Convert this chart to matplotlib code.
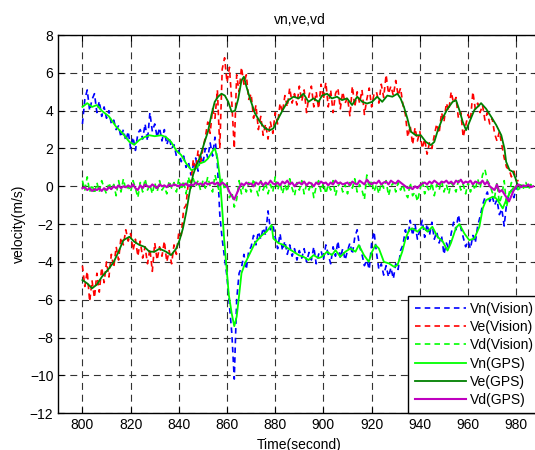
import matplotlib
matplotlib.use('Agg')
import matplotlib.pyplot as plt
import numpy as np

plt.rcParams['font.family'] = ['Liberation Sans', 'DejaVu Sans']
plt.rcParams['lines.scale_dashes'] = False

# Vision estimates, one value per second
t_vis = np.arange(800, 982)
vn_vision = [
    3.3, 4.6, 5.1, 4.0, 4.6, 4.9, 3.9, 4.5, 3.7, 4.2,
    3.6, 4.0, 3.3, 3.5, 3.0, 3.2, 2.6, 3.0, 2.4, 2.9,
    2.0, 2.6, 1.9, 2.8, 3.0, 2.5, 3.3, 2.4, 3.9, 2.9,
    3.3, 2.6, 3.1, 2.4, 3.0, 2.2, 2.6, 2.0, 2.2, 1.6,
    1.9, 1.3, 1.6, 1.0, 1.3, 0.6, 1.1, 1.5, 0.8, 1.6,
    1.2, 2.0, 1.5, 2.3, 1.6, 2.6, 1.2, -1.5, -2.8, -3.8,
    -4.8, -6.3, -7.8, -10.2, -6.0, -4.6, -4.3, -3.6, -4.4, -3.4,
    -3.2, -2.6, -3.1, -2.4, -2.8, -2.2, -2.6, -1.3, -2.3, -2.0,
    -2.7, -3.3, -2.5, -3.4, -2.9, -3.6, -3.1, -3.7, -3.3, -3.9,
    -3.4, -3.8, -3.3, -4.0, -3.5, -3.9, -3.2, -4.1, -3.6, -3.4,
    -3.9, -3.1, -3.6, -4.1, -3.2, -3.7, -2.9, -3.8, -3.3, -3.9,
    -3.4, -3.0, -3.6, -2.7, -2.3, -3.2, -3.6, -4.2, -3.9, -4.4,
    -3.0, -2.4, -3.5, -4.4, -4.1, -4.7, -4.2, -4.8, -4.3, -4.9,
    -4.1, -4.4, -3.4, -3.1, -2.3, -2.8, -1.8, -2.6, -2.0, -2.8,
    -2.3, -1.8, -2.7, -2.0, -2.6, -1.9, -2.8, -2.4, -3.0, -2.6,
    -3.6, -3.0, -3.3, -2.5, -1.9, -2.3, -1.5, -2.2, -2.7, -3.2,
    -2.9, -3.3, -2.6, -3.0, -2.1, -1.6, -1.0, -0.6, -0.3, -0.8,
    -0.5, -1.0, -0.7, -1.5, -1.2, -2.1, -0.9, -0.4, -0.2, -0.6,
    -0.1, 0.0,
]
ve_vision = [
    -4.2, -5.3, -4.5, -6.1, -5.0, -5.9, -4.6, -5.6, -4.3, -5.1,
    -4.0, -4.8, -3.6, -4.3, -3.2, -3.9, -2.7, -3.1, -2.3, -2.9,
    -2.5, -3.4, -2.8, -3.7, -2.9, -3.8, -3.2, -4.1, -3.3, -4.5,
    -3.0, -3.9, -3.2, -3.7, -2.9, -4.0, -3.4, -4.1, -3.1, -3.6,
    -2.4, -2.6, -1.2, -1.0, 0.3, 0.2, 1.4, 0.9, 1.9, 1.2,
    2.0, 2.6, 3.4, 2.8, 4.1, 3.6, 5.1, 2.0, 6.2, 6.8,
    5.5, 6.3, 4.4, 2.0, 5.9, 5.0, 6.3, 5.4, 5.9, 4.6,
    4.9, 3.6, 4.3, 3.0, 3.7, 2.7, 3.3, 2.5, 3.4, 2.8,
    3.9, 3.3, 4.4, 3.9, 4.8, 4.2, 5.2, 4.4, 4.9, 4.3,
    5.3, 4.5, 5.1, 3.9, 4.8, 5.3, 4.2, 5.0, 4.1, 5.4,
    4.6, 5.5, 4.2, 5.1, 3.9, 4.9, 5.2, 4.1, 5.0, 4.4,
    4.7, 3.7, 5.3, 4.2, 5.0, 4.4, 5.1, 3.8, 4.6, 5.2,
    4.2, 4.9, 5.0, 4.4, 5.4, 4.7, 5.9, 4.9, 5.3, 4.8,
    5.6, 4.8, 5.2, 4.3, 3.8, 2.6, 3.2, 2.2, 3.1, 2.4,
    2.9, 2.0, 2.5, 1.7, 2.3, 2.0, 2.7, 3.3, 2.8, 3.9,
    3.4, 4.4, 4.0, 5.0, 4.4, 4.7, 3.6, 3.9, 2.6, 3.2,
    3.8, 3.5, 5.0, 4.1, 4.4, 3.9, 4.3, 3.5, 3.9, 3.3,
    3.6, 2.8, 2.4, 2.9, 2.2, 1.5, 1.0, 0.9, 0.5, 0.8,
    0.3, 0.3,
]

t_vd = np.arange(800, 988)
vd_vision = [
    0.3, -0.2, 0.5, -0.3, 0.1, -0.4, 0.2, -0.3, 0.3, -0.1,
    -0.4, 0.2, -0.2, 0.1, -0.5, 0.3, -0.3, 0.4, -0.2, 0.0,
    -0.3, 0.3, -0.1, -0.6, 0.2, -0.3, 0.4, -0.2, 0.1, -0.4,
    0.2, -0.3, 0.3, -0.2, 0.0, -0.4, 0.3, -0.1, 0.2, -0.3,
    0.4, -0.2, 0.3, -0.4, 0.5, -0.1, 0.4, 0.0, 0.3, -0.2,
    0.3, -0.1, 0.5, 0.0, -0.3, 0.6, 0.1, -0.4, 0.4, -0.2,
    0.2, -0.6, -0.3, -1.1, -0.7, 0.3, -0.4, 0.1, -0.3, 0.2,
    -0.3, 0.4, -0.1, -0.5, 0.3, -0.2, 0.2, -0.4, 0.1, -0.3,
    0.5, -0.2, 0.2, -0.4, 0.1, -0.3, 0.4, -0.1, -0.5, 0.2,
    -0.2, 0.3, -0.4, 0.1, -0.2, 0.2, -0.6, 0.0, 0.3, -0.3,
    0.2, -0.4, 0.1, -0.2, 0.3, -0.5, 0.0, 0.2, -0.3, 0.1,
    -0.4, 0.2, -0.1, 0.4, -0.3, 0.1, -0.2, -0.7, 0.6, -0.1,
    0.3, -0.3, 0.1, -0.4, 0.2, -0.1, 0.3, -0.5, 0.0, 0.2,
    -0.3, 0.2, -0.2, 0.1, -0.4, -0.6, 0.2, -0.5, -0.3, -0.8,
    -0.2, 0.3, -0.4, 0.0, -0.3, 0.2, -0.5, 0.1, -0.2, 0.3,
    -0.3, 0.1, -0.4, 0.2, 0.0, -0.3, 0.3, -0.2, 0.1, -0.4,
    0.2, -0.3, 0.1, -0.2, 0.4, -0.1, 0.6, 0.9, 0.3, 0.1,
    -0.3, -0.6, 0.2, -0.9, -0.5, 0.3, -1.1, -0.4, 0.2, -0.2,
    0.1, -0.3, 0.2, -0.1, 0.2, -0.2, 0.1, 0.0,
]
vd_gps = [
    -0.1, -0.05, -0.2, -0.1, -0.25, -0.15, -0.2, -0.1, -0.25, -0.1,
    -0.2, -0.05, -0.15, 0.0, -0.1, 0.05, -0.1, 0.0, -0.05, 0.05,
    -0.05, 0.1, -0.1, -0.2, 0.05, -0.1, 0.1, 0.0, -0.05, 0.1,
    0.0, -0.1, 0.1, 0.0, 0.05, -0.05, 0.1, 0.0, 0.1, 0.05,
    0.0, 0.1, 0.05, 0.15, 0.0, 0.1, 0.05, 0.2, 0.1, 0.15,
    0.05, 0.2, 0.1, 0.15, 0.2, 0.1, 0.2, 0.05, 0.2, 0.1,
    0.0, -0.3, -0.5, -0.7, -0.4, -0.1, 0.15, 0.05, 0.2, 0.1,
    0.15, 0.0, 0.2, 0.1, 0.25, 0.05, 0.2, 0.1, 0.3, 0.15,
    0.1, 0.2, 0.05, 0.25, 0.15, 0.3, 0.1, 0.2, 0.0, 0.15,
    0.2, 0.1, 0.25, 0.05, 0.2, 0.15, 0.0, 0.2, 0.1, 0.25,
    0.15, 0.2, 0.05, 0.2, 0.1, 0.3, 0.15, 0.2, 0.1, 0.15,
    0.2, 0.05, 0.25, 0.15, 0.1, 0.3, 0.2, 0.1, 0.35, 0.2,
    0.1, 0.2, 0.15, 0.3, 0.1, 0.2, 0.25, 0.1, 0.3, 0.2,
    0.15, 0.3, 0.2, 0.1, 0.0, -0.1, -0.05, -0.15, 0.0, -0.1,
    0.05, 0.15, 0.2, 0.1, 0.25, 0.15, 0.3, 0.2, 0.1, 0.25,
    0.2, 0.3, 0.15, 0.25, 0.1, 0.3, 0.2, 0.35, 0.15, 0.25,
    0.2, 0.3, 0.1, 0.25, 0.2, 0.15, 0.3, 0.1, 0.25, 0.0,
    -0.1, -0.2, 0.1, -0.3, -0.2, -0.4, -0.6, -0.8, -0.5, -0.2,
    0.0, 0.1, -0.05, 0.05, 0.0, 0.1, -0.05, 0.0,
]

# GPS velocities read at irregular times
t_vn_gps = [800, 802, 804, 806, 808, 811, 814, 816.7, 819.5, 821.5, 823.6, 825.7,
            827.8, 830, 832.7, 834.7, 836.8, 838.9, 841, 843.1, 845.2, 847.3,
            848.6, 850.7, 852.1, 854.2, 855, 856, 857, 858, 858.8, 859.8, 860.7,
            861.9, 863, 864, 864.9, 866, 867.4, 869.5, 871.6, 874.4, 876.4, 878.5,
            879.2, 881.3, 883.4, 885.5, 887.6, 889.7, 891.7, 893.8, 895.9, 898,
            899.4, 901.5, 903.5, 905, 907, 909.1, 911.2, 913.3, 914.7, 916.8,
            918.8, 920.2, 921.6, 923, 925.1, 927.2, 929.3, 930.7, 932.7, 934.1,
            935.5, 936.9, 939, 941.1, 943.2, 945.2, 947.3, 949.4, 951.5, 952.9,
            955, 956.4, 958.5, 960.5, 962.6, 964.7, 966.1, 967.5, 968.9, 970.3,
            971.7, 973.1, 974.4, 975.8, 977.2, 978.6, 980, 982, 984, 986]
vn_gps = [4.2, 4.4, 4.2, 4.3, 4.0, 3.7, 3.15, 2.8, 2.35, 2.2, 2.45, 2.6,
          2.7, 2.65, 2.7, 2.6, 2.35, 1.9, 1.65, 1.2, 0.86, 0.95,
          1.2, 1.3, 1.47, 1.9, 2.0, 1.5, 0.5, -1.2, -2.8, -4.3, -5.7,
          -6.7, -7.4, -6.9, -5.9, -4.6, -4.1, -3.55, -3.0, -2.6, -2.4, -2.05,
          -2.76, -3.0, -3.1, -3.3, -3.46, -3.64, -3.73, -3.9, -3.64, -3.8,
          -3.73, -3.46, -3.64, -3.38, -3.73, -3.46, -3.29, -3.46, -3.11, -3.64,
          -3.99, -3.46, -3.11, -3.29, -4.0, -4.08, -4.26, -4.17, -3.46, -2.76,
          -2.32, -2.23, -2.4, -2.14, -2.4, -2.14, -2.67, -2.9, -3.4, -3.0,
          -2.2, -2.0, -2.5, -2.85, -2.76, -2.14, -1.17, -0.73, -0.64, -0.55,
          -0.64, -0.9, -1.17, -0.73, -0.38, -0.12, 0.0, 0.05, -0.05, 0.0]

t_ve_gps = [800, 802, 804, 806, 808, 811, 813, 815, 817, 819.5, 821.5, 823.6,
            825.7, 827.8, 829.9, 832, 834.7, 836.8, 838.9, 840.3, 841.7, 843.1,
            844.5, 845.9, 847.3, 848.6, 850.7, 852.1, 853.5, 854.9, 856.3, 857.7,
            859.1, 860.5, 861.9, 863.3, 864.6, 866, 867, 868, 869.5, 871.6,
            873.7, 875.8, 877.8, 879.2, 881.3, 883.4, 885.5, 887.6, 889.7, 891.7,
            893.8, 895.9, 898, 899.4, 901.5, 903.5, 905.6, 907.7, 909.8, 911.9,
            914, 916.1, 918.1, 920.2, 922.3, 924.4, 926.5, 928.6, 930.7, 932,
            933.4, 934.8, 936.2, 938.3, 940.4, 942.5, 944.6, 946, 947.3, 949.4,
            951.5, 953.6, 955, 956.4, 957.8, 959.2, 960.6, 962.6, 964.7, 965.4,
            967.5, 969.6, 971.7, 973.8, 975.1, 975.8, 977.2, 978.6, 979.7, 980.7,
            983, 986]
ve_gps = [-4.96, -5.14, -5.4, -5.2, -4.8, -4.35, -4.0, -3.46, -2.85, -2.67, -2.93, -3.1,
          -3.2, -3.46, -3.46, -3.3, -3.46, -3.64, -3.3, -2.85, -2.23, -1.35,
          -0.29, 0.6, 1.12, 1.47, 2.35, 2.9, 3.77, 4.47, 4.74, 4.9,
          4.8, 4.47, 3.94, 4.0, 4.6, 5.6, 5.8, 5.3, 4.65, 3.86,
          3.4, 3.06, 2.97, 3.06, 3.6, 4.1, 4.56, 4.74, 4.65, 4.9,
          4.47, 4.65, 4.47, 4.8, 4.9, 4.65, 4.74, 4.56, 4.65, 4.3,
          4.74, 4.47, 4.38, 4.47, 4.74, 4.47, 4.8, 4.74, 4.9, 4.65,
          4.2, 3.6, 2.9, 2.7, 2.7, 2.35, 2.18, 2.35, 2.9, 3.6,
          4.1, 4.47, 4.56, 4.03, 3.41, 2.97, 3.41, 4.03, 4.3, 4.4,
          4.1, 3.68, 3.24, 2.7, 2.0, 1.3, 0.86, 0.77, 0.42, 0.0,
          0.02, 0.0]

fig = plt.figure(figsize=(5.35, 4.5), dpi=100)
ax = fig.add_axes([0.109, 0.082, 0.901, 0.84])

dash = (0, (4, 3))
ax.plot(t_vis[:len(vn_vision)], vn_vision, color='b', lw=1.2, ls=dash, label='Vn(Vision)')
ax.plot(t_vis[:len(ve_vision)], ve_vision, color='r', lw=1.2, ls=dash, label='Ve(Vision)')
ax.plot(t_vd, vd_vision, color='#00ff00', lw=1.2, ls=dash, label='Vd(Vision)')
ax.plot(t_vn_gps, vn_gps, color='#00ff00', lw=1.3, label='Vn(GPS)')
ax.plot(t_ve_gps, ve_gps, color='#008000', lw=1.3, label='Ve(GPS)')
ax.plot(t_vd, vd_gps, color='#bf00bf', lw=1.5, label='Vd(GPS)')

ax.set_xlim(790, 990)
ax.set_ylim(-12, 8)
ax.set_xticks(np.arange(800, 1000, 20))
ax.set_yticks(np.arange(-12, 9, 2))
ax.tick_params(direction='in', top=True, right=True, length=4, labelsize=10)
ax.grid(True, color='0.2', lw=0.8, ls=(0, (5, 3.5)))
for s in ax.spines.values():
    s.set_linewidth(1.0)

ax.set_title('vn,ve,vd', fontsize=10, pad=8)
ax.set_xlabel('Time(second)', fontsize=10, labelpad=4)
ax.set_ylabel('velocity(m/s)', fontsize=10, labelpad=3)

leg = ax.legend(loc='lower right', fontsize=10, borderaxespad=0, fancybox=False,
                framealpha=1, edgecolor='k', handlelength=3.7, handletextpad=0.3,
                labelspacing=0.3, borderpad=0.45)
leg.get_frame().set_linewidth(1.0)

fig.savefig('out.png', dpi=100)
